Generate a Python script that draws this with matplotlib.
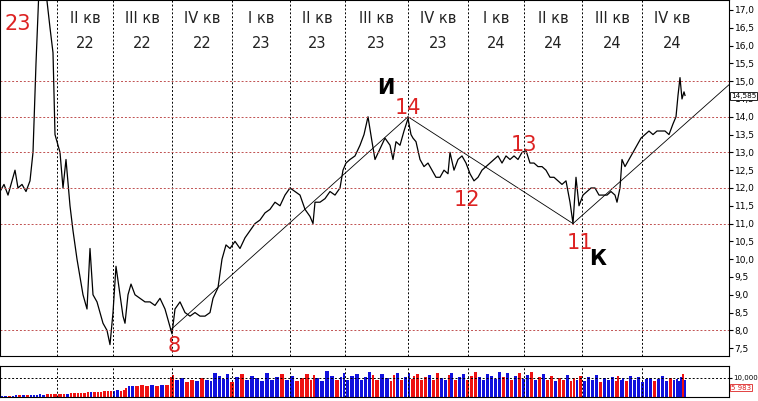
import numpy as np
import matplotlib.pyplot as plt

# time axis in chart units (0..729), price in rubles
days = [0, 4, 8, 12, 15, 18, 22, 26, 30, 33, 36, 39, 42, 46, 50, 53, 55, 58, 60, 63, 66, 70, 73, 77, 80,
        83, 87, 90, 93, 97, 100, 103, 107, 110, 113, 116, 120, 123, 125, 128, 131, 135, 140, 145, 150,
        155, 160, 165, 170, 172, 175, 180, 185, 190, 195, 200, 205, 210, 213, 218, 222, 226, 230, 235,
        240, 245, 250, 255, 260, 265, 270, 275, 280, 285, 290, 295, 300, 305, 310, 313, 315, 320, 325,
        330, 335, 340, 343, 346, 350, 355, 360, 364, 368, 372, 375, 380, 385, 390, 393, 396, 400, 404,
        408, 411, 413, 416, 420, 424, 428, 432, 436, 440, 444, 448, 450, 454, 458, 462, 466, 470, 474,
        478, 482, 486, 490, 494, 498, 502, 506, 510, 514, 518, 522, 526, 530, 534, 538, 542, 546, 550,
        554, 558, 562, 566, 570, 573, 576, 579, 583, 587, 591, 595, 599, 603, 607, 611, 615, 617, 620,
        622, 625, 629, 633, 637, 641, 645, 649, 653, 657, 661, 665, 669, 673, 676, 678, 680, 682, 684, 685]
price = [11.9, 12.1, 11.8, 12.2, 12.5, 12.0, 12.1, 11.9, 12.2, 13.0, 15.5, 17.6, 17.8, 17.5, 16.5, 15.8,
         13.5, 13.2, 13.0, 12.0, 12.8, 11.5, 10.8, 10.0, 9.5, 9.0, 8.6, 10.3, 9.0, 8.8, 8.5, 8.2, 8.0, 7.6,
         8.5, 9.8, 9.0, 8.4, 8.2, 9.0, 9.3, 9.0, 8.9, 8.8, 8.8, 8.7, 8.9, 8.6, 8.1, 7.9, 8.6, 8.8, 8.5, 8.4,
         8.5, 8.4, 8.4, 8.5, 8.9, 9.2, 10.0, 10.4, 10.3, 10.5, 10.3, 10.6, 10.8, 11.0, 11.1, 11.3, 11.4, 11.6,
         11.5, 11.8, 12.0, 11.9, 11.8, 11.4, 11.2, 11.0, 11.6, 11.6, 11.7, 11.9, 11.8, 12.0, 12.5, 12.7, 12.8,
         12.9, 13.2, 13.5, 14.0, 13.3, 12.8, 13.1, 13.4, 13.2, 12.8, 13.3, 13.2, 13.6, 13.95, 13.5, 13.4, 13.3,
         12.8, 12.6, 12.7, 12.5, 12.3, 12.3, 12.5, 12.4, 13.0, 12.5, 12.8, 12.9, 12.7, 12.4, 12.2, 12.3, 12.5,
         12.6, 12.7, 12.8, 12.9, 12.7, 12.9, 12.8, 12.9, 12.8, 13.0, 13.05, 12.7, 12.7, 12.6, 12.6, 12.5, 12.3,
         12.3, 12.2, 12.1, 12.2, 11.6, 11.0, 12.3, 11.5, 11.8, 11.9, 12.0, 12.0, 11.8, 11.8, 11.8, 11.9, 11.8,
         11.6, 12.0, 12.8, 12.6, 12.8, 13.0, 13.2, 13.4, 13.5, 13.6, 13.5, 13.6, 13.6, 13.6, 13.5, 13.8, 14.0,
         14.6, 15.1, 14.5, 14.7, 14.6]
volume = [0.5, 0.6, 0.6, 0.7, 0.8, 0.8, 0.9, 0.9, 1.0, 1.0, 1.2, 1.3, 1.2, 1.3, 1.4, 1.5, 1.6, 1.5, 1.7,
          1.8, 1.8, 2.0, 2.1, 2.2, 2.0, 2.3, 2.5, 2.6, 2.4, 2.7, 2.8, 3.0, 2.9, 3.2, 3.0, 3.4, 3.3, 3.5, 4.8,
          5.5, 5.8, 5.6, 6.0, 5.7, 6.2, 5.9, 6.3, 6.1, 10.5, 11.5, 9.0, 10.0, 8.0, 9.0, 8.5, 10.0, 9.0, 8.5,
          12.5, 11.0, 9.5, 12.0, 8.0, 10.5, 12.0, 9.0, 11.0, 10.0, 8.5, 12.5, 9.0, 10.5, 12.0, 9.0, 11.0, 8.5,
          10.0, 12.0, 9.0, 11.5, 10.0, 8.5, 13.5, 11.0, 9.0, 10.5, 12.5, 9.0, 11.0, 12.0, 9.0, 10.5, 13.0,
          11.5, 9.0, 12.0, 10.0, 8.5, 11.5, 12.5, 9.0, 10.5, 12.5, 9.5, 11.0, 12.0, 9.0, 10.5, 11.5, 9.0, 12.5,
          10.0, 9.0, 11.5, 12.5, 9.0, 10.5, 12.0, 9.0, 11.0, 13.0, 10.5, 9.0, 12.0, 11.0, 9.5, 13.0, 10.5, 12.5,
          9.0, 11.0, 12.5, 9.5, 11.5, 13.0, 9.0, 10.5, 12.0, 9.0, 11.0, 8.5, 10.0, 9.0, 11.5, 8.5, 10.0, 9.0,
          11.0, 8.5, 10.5, 9.0, 11.5, 8.0, 10.0, 9.0, 10.5, 8.5, 11.0, 9.0, 10.0, 8.5, 11.0, 9.0, 10.5, 8.0,
          9.5, 10.0, 8.5, 9.5, 11.0, 8.5, 10.0, 9.0, 9.5, 8.5, 10.5, 12.0, 9.0]

quarter_lines = [57, 113, 172, 232, 290, 345, 408, 468, 524, 582, 642]
quarter_labels = [("II кв", "22"), ("III кв", "22"), ("IV кв", "22"), ("I кв", "23"), ("II кв", "23"),
                  ("III кв", "23"), ("IV кв", "23"), ("I кв", "24"), ("II кв", "24"), ("III кв", "24"),
                  ("IV кв", "24")]
grid_levels = [15.0, 14.0, 13.0, 12.0, 11.0, 8.0]
# trend lines: (x0, y0, x1, y1)
trends = [(170, 8.0, 408, 14.0), (408, 14.0, 573, 11.0), (573, 11.0, 729, 14.9)]
wave_marks = [("23", 18, 16.6), ("8", 174, 7.55), ("14", 408, 14.25), ("12", 467, 11.65),
              ("13", 524, 13.2), ("11", 580, 10.45)]

W, H = 758, 401
fig = plt.figure(figsize=(W / 100, H / 100), dpi=100)
ax = fig.add_axes([0, 1 - 356 / H, 729 / W, 356 / H])
axv = fig.add_axes([0, 4 / H, 729 / W, 31 / H])

XMAX = 729
ax.plot(days, price, color='black', lw=0.9)
for x0, y0, x1, y1 in trends:
    ax.plot([x0, x1], [y0, y1], color='black', lw=0.6)
for x in quarter_lines:
    ax.axvline(x, color='black', ls=(0, (2, 2)), lw=0.7)
    axv.axvline(x, color='black', ls=(0, (2, 2)), lw=0.7)
for lvl in grid_levels:
    ax.axhline(lvl, color='#c05050', ls=(0, (2, 2)), lw=0.7)

edges = quarter_lines + [XMAX + 30]
for i, (q, yr) in enumerate(quarter_labels):
    cx = (edges[i] + edges[i + 1]) / 2 if i < len(quarter_labels) - 1 else 672
    ax.text(cx, 16.75, q, ha='center', va='center', fontsize=10.5, color='#222222')
    ax.text(cx, 16.05, yr, ha='center', va='center', fontsize=10.5, color='#222222')

for txt, x, y in wave_marks:
    ax.text(x, y, txt, ha='center', va='center', fontsize=15, color='#dd2222')
ax.text(386, 14.8, "И", ha='center', va='center', fontsize=15, fontweight='bold')
ax.text(598, 10.0, "К", ha='center', va='center', fontsize=15, fontweight='bold')

ax.set_xlim(0, XMAX)
ax.set_ylim(7.28, 17.28)
ax.set_xticks([])
ax.yaxis.tick_right()
ax.set_yticks(np.arange(7.5, 17.01, 0.5))
ax.set_yticklabels([f"{v:.1f}".replace('.', ',') for v in np.arange(7.5, 17.01, 0.5)])
ax.tick_params(axis='y', labelsize=6.5, length=3, pad=1)
ax.text(1.003, (14.585 - 7.28) / 10, "14,585", transform=ax.transAxes, fontsize=5.2, va='center',
        bbox=dict(boxstyle='square,pad=0.1', fc='white', ec='black', lw=0.6), zorder=5)

# volume bars coloured by price move
n = min(len(days), len(volume))
colors = ['#1010dd' if i == 0 or price[i] >= price[i - 1] else '#ee1111' for i in range(n)]
widths = np.diff(days[:n] + [days[n - 1] + 2])
axv.bar(days[:n], volume[:n], width=widths * 0.8, align='edge', color=colors, lw=0)
axv.axhline(10, color='black', ls=(0, (2, 2)), lw=0.7)
axv.set_xlim(0, XMAX)
axv.set_ylim(0, 16)
axv.set_xticks([])
axv.yaxis.tick_right()
axv.set_yticks([10])
axv.set_yticklabels(["10,000"])
axv.tick_params(axis='y', labelsize=5, length=2, pad=1)
axv.text(1.003, 0.3, "5 983", transform=axv.transAxes, fontsize=5, va='center', color='#dd2222',
         bbox=dict(boxstyle='square,pad=0.1', fc='white', ec='#dd2222', lw=0.6))

fig.savefig("out.png", dpi=100)
